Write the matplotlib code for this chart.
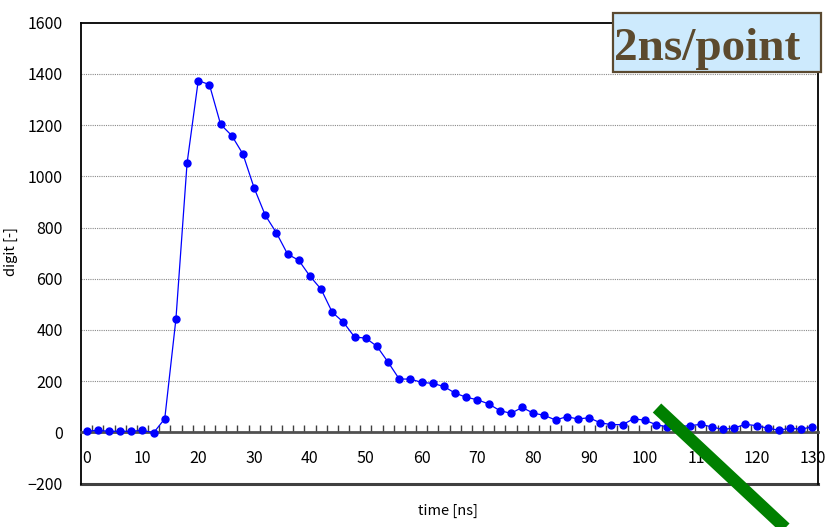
import numpy as np
import matplotlib
matplotlib.use("Agg")
import matplotlib.pyplot as plt
from matplotlib.lines import Line2D
from matplotlib.patches import Rectangle

plt.rcParams['font.family'] = ['Noto Sans CJK JP', 'DejaVu Sans']

# sampled waveform, 2 ns per point
time_ns = list(range(0, 131, 2))
digit = [4, 8, 4, 4, 4, 8, -2, 53, 442, 1052,
         1374, 1358, 1203, 1159, 1087, 955, 848, 779, 696, 672,
         610, 559, 469, 430, 372, 368, 336, 274, 208, 208,
         195, 191, 179, 153, 137, 127, 111, 85, 74, 97,
         75, 66, 48, 61, 52, 57, 37, 30, 30, 53,
         47, 30, 21, 22, 26, 31, 21, 11, 17, 31,
         26, 16, 8, 16, 12, 22]

x_labels = list(range(0, 131, 10))
y_ticks = list(range(-200, 1601, 200))

fig = plt.figure(figsize=(8.27, 5.27), dpi=100)
ax = fig.add_axes([81 / 827, 43.5 / 527, 737 / 827, 460.8 / 527])

ax.plot(time_ns, digit, '-', color='#0000ff', linewidth=0.9,
        marker='o', markersize=5, zorder=3)

ax.set_xlim(-1, 131)
ax.set_ylim(-200, 1600)

# gridlines
for yv in y_ticks[2:-1]:
    ax.axhline(yv, color='#8a8a8a', linewidth=0.8, linestyle=(0, (1, 1)), zorder=1)

# box + bottom frame line at -200
for s in ['left', 'top', 'right']:
    ax.spines[s].set_color('black')
    ax.spines[s].set_linewidth(1.3)
ax.axhline(-200, color='#404040', linewidth=2.2, zorder=2, clip_on=False)

# category axis crossing at 0
ax.spines['bottom'].set_position(('data', 0))
ax.spines['bottom'].set_color('#505050')
ax.spines['bottom'].set_linewidth(2)
ax.set_xticks(x_labels)
ax.set_xticks(np.arange(1, 130, 2), minor=True)
ax.tick_params(axis='x', which='major', length=0, pad=13, labelsize=11.5)
ax.tick_params(axis='x', which='minor', direction='in', length=5,
               width=1, color='#404040')

ax.set_yticks(y_ticks)
ax.set_yticklabels([str(v).replace('-', '\u2212') for v in y_ticks])
ax.tick_params(axis='y', length=0, pad=13, labelsize=11.5)

fig.text(448 / 827, 1 - 511 / 527, 'time [ns]', ha='center', va='center', fontsize=10.5)
fig.text(11 / 827, 1 - 252 / 527, 'digit [-]', ha='center', va='center',
         rotation=90, fontsize=10.5)

# label box
fig.add_artist(Rectangle((612.7 / 827, 1 - 71.7 / 527), 208.3 / 827, 58.4 / 527,
                         transform=fig.transFigure, facecolor='#cdeafd',
                         edgecolor='#5b4a31', linewidth=1.6, zorder=5))
fig.text(614 / 827, 1 - 60 / 527, '2ns/point', ha='left', va='baseline',
         fontsize=34, fontweight='bold', family='Liberation Serif',
         color='#5c4a2e', zorder=6)

# green stroke drawn over the chart
fig.add_artist(Line2D([657 / 827, 803.5 / 827], [1 - 408 / 527, 1 - 545 / 527],
                      transform=fig.transFigure, color='#008000', linewidth=8.9,
                      solid_capstyle='butt', zorder=7))

fig.savefig('out.png', dpi=100)
